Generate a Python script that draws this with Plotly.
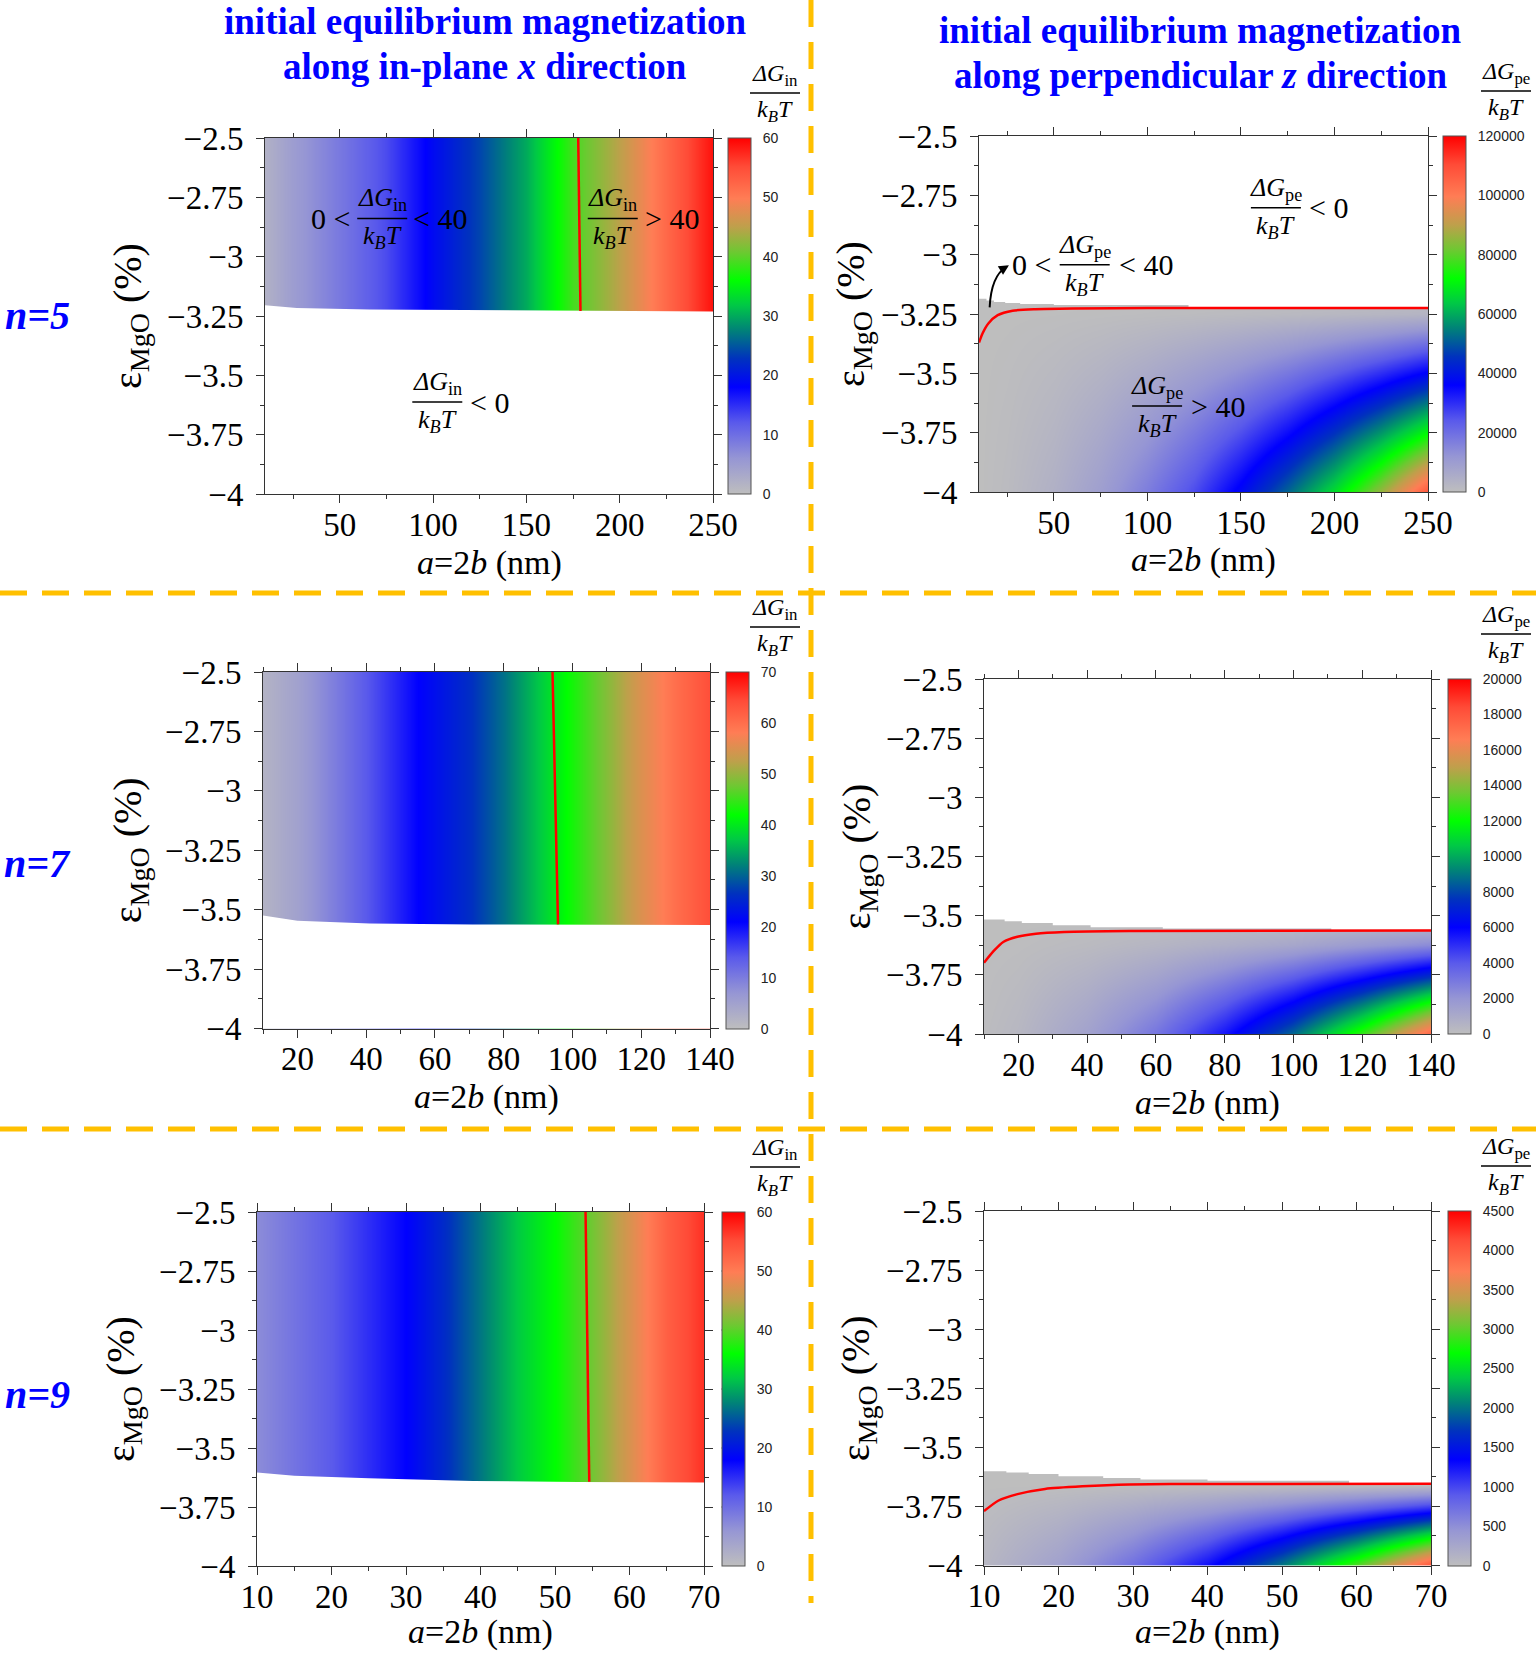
import plotly.graph_objects as go

W, H = 1536, 1654

# ---------------- data ----------------
# in-plane (x) panels: ΔG_in/kBT versus a = 2b (nm), nearly independent of strain
a_in5 = [10, 25, 50, 75, 100, 125, 150, 175, 200, 225, 250]
g_in5 = [2, 5, 9, 13, 19, 24, 30, 39, 45, 52, 59]
edge_a_in5 = [10, 27, 66, 122, 250]
edge_e_in5 = [-3.205, -3.216, -3.223, -3.226, -3.231]
c40_a_in5 = [177.8, 179.0]
c40_e_in5 = [-2.5, -3.229]

a_in7 = [10, 20, 40, 55, 70, 80, 90, 95, 100, 110, 120, 130, 140]
g_in7 = [2, 5, 14, 21, 26, 31, 37, 40, 43, 49, 55, 60, 64]
edge_a_in7 = [10, 20, 41, 71, 140]
edge_e_in7 = [-3.525, -3.547, -3.558, -3.5625, -3.565]
c40_a_in7 = [94.2, 95.8]
c40_e_in7 = [-2.5, -3.562]

a_in9 = [10, 20, 30, 35, 40, 45, 50, 55, 60, 65, 70]
g_in9 = [7, 12, 18, 22, 27, 32, 36, 41, 47, 53, 57]
edge_a_in9 = [10, 15, 25, 39, 53, 70]
edge_e_in9 = [-3.604, -3.618, -3.628, -3.640, -3.644, -3.647]
c40_a_in9 = [54.1, 54.6]
c40_e_in9 = [-2.5, -3.643]

# perpendicular (z) panels: ΔG_pe/kBT on an (a, strain) grid
a_pe5 = [10, 25, 50, 75, 100, 125, 150, 175, 200, 225, 250]
e_pe5 = [-4.0, -3.75, -3.5, -3.25, -3.18]
g_pe5 = [
    [0, 1000, 4200, 9500, 17000, 26000, 38000, 52000, 67000, 86000, 108000],
    [0, 700, 2800, 6400, 11400, 17800, 25600, 34800, 45500, 58000, 72000],
    [0, 370, 1500, 3300, 5900, 9300, 13400, 18200, 23800, 30000, 37000],
    [0, 30, 120, 280, 500, 780, 1100, 1500, 2000, 2500, 3100],
    [0, 0, 0, 0, 0, 0, 0, 0, 0, 0, 0],
]
edge_a_pe5 = [10, 14, 18, 24, 32, 50, 122, 250]
edge_e_pe5 = [-3.186, -3.193, -3.199, -3.204, -3.208, -3.212, -3.222, -3.222]
c40_a_pe5 = [10, 12, 15, 20, 28, 40, 60, 100, 250]
c40_e_pe5 = [-3.37, -3.33, -3.29, -3.255, -3.236, -3.23, -3.227, -3.225, -3.225]

a_pe7 = [10, 20, 40, 60, 80, 100, 120, 140]
e_pe7 = [-4.0, -3.875, -3.75, -3.625, -3.52]
g_pe7 = [
    [100, 350, 1400, 3100, 5600, 8700, 12800, 17500],
    [60, 250, 1000, 2200, 4000, 6200, 9100, 12500],
    [40, 150, 600, 1300, 2400, 3700, 5400, 7300],
    [10, 50, 200, 450, 800, 1200, 1800, 2400],
    [0, 0, 0, 0, 0, 0, 0, 0],
]
edge_a_pe7 = [10, 16, 21, 30, 41, 62, 111, 140]
edge_e_pe7 = [-3.516, -3.524, -3.531, -3.541, -3.549, -3.554, -3.560, -3.560]
c40_a_pe7 = [10, 12.9, 15.6, 19.7, 25.1, 33.3, 52.3, 140]
c40_e_pe7 = [-3.699, -3.648, -3.611, -3.589, -3.576, -3.569, -3.565, -3.563]

a_pe9 = [10, 20, 30, 40, 50, 60, 70]
e_pe9 = [-4.0, -3.875, -3.75, -3.66, -3.6]
g_pe9 = [
    [80, 330, 740, 1300, 2050, 3000, 4100],
    [50, 210, 470, 830, 1300, 1900, 2600],
    [20, 90, 200, 350, 540, 780, 1060],
    [0, 0, 0, 0, 0, 0, 0],
    [0, 0, 0, 0, 0, 0, 0],
]
edge_a_pe9 = [10, 13, 16, 20, 26, 31, 40, 59, 70]
edge_e_pe9 = [-3.601, -3.606, -3.613, -3.622, -3.630, -3.636, -3.641, -3.652, -3.652]
c40_a_pe9 = [10, 11.9, 14.5, 18.2, 23.2, 29.5, 40, 70]
c40_e_pe9 = [-3.770, -3.726, -3.698, -3.676, -3.665, -3.657, -3.655, -3.654]

strain_ticks = [-4, -3.75, -3.5, -3.25, -3, -2.75, -2.5]
strain_text = ["−4", "−3.75", "−3.5", "−3.25", "−3", "−2.75", "−2.5"]
cb_in5 = [0, 10, 20, 30, 40, 50, 60]
cb_pe5 = [0, 20000, 40000, 60000, 80000, 100000, 120000]
cb_in7 = [0, 10, 20, 30, 40, 50, 60, 70]
cb_pe7 = [0, 2000, 4000, 6000, 8000, 10000, 12000, 14000, 16000, 18000, 20000]
cb_in9 = [0, 10, 20, 30, 40, 50, 60]
cb_pe9 = [0, 500, 1000, 1500, 2000, 2500, 3000, 3500, 4000, 4500]

# ---------------- styling ----------------
SERIF = "Liberation Serif"
SANS = "Liberation Sans"
ORANGE = "#FFC000"

colorscale = [
    [0.00, "rgb(190,190,190)"],
    [0.10, "rgb(150,150,212)"],
    [0.20, "rgb(90,90,235)"],
    [0.30, "rgb(0,0,255)"],
    [0.38, "rgb(0,50,190)"],
    [0.46, "rgb(0,130,120)"],
    [0.53, "rgb(0,200,70)"],
    [0.60, "rgb(0,255,0)"],
    [0.68, "rgb(110,200,50)"],
    [0.75, "rgb(190,160,75)"],
    [0.83, "rgb(255,125,85)"],
    [0.92, "rgb(255,75,55)"],
    [1.00, "rgb(255,0,0)"],
]


def fx(p):
    return p / W


def fy(p):
    return 1 - p / H


# panel geometry in pixels: plot left, right, top, bottom, colorbar left, x-title centre
panels = [
    dict(kind="in", a=a_in5, g=g_in5, ea=edge_a_in5, ee=edge_e_in5, ca=c40_a_in5, ce=c40_e_in5,
         xr=[10, 250], xd=50, xm=25, cb=cb_in5, box=(265, 713, 138, 494), cbl=728, sub="in", xt=563),
    dict(kind="pe", a=a_pe5, e=e_pe5, g=g_pe5, ea=edge_a_pe5, ee=edge_e_pe5, ca=c40_a_pe5, ce=c40_e_pe5,
         xr=[10, 250], xd=50, xm=25, cb=cb_pe5, box=(979, 1428, 136, 492), cbl=1443, sub="pe", xt=560),
    dict(kind="in", a=a_in7, g=g_in7, ea=edge_a_in7, ee=edge_e_in7, ca=c40_a_in7, ce=c40_e_in7,
         xr=[10, 140], xd=20, xm=10, cb=cb_in7, box=(263, 710, 672, 1028.5), cbl=726, sub="in", xt=1097),
    dict(kind="pe", a=a_pe7, e=e_pe7, g=g_pe7, ea=edge_a_pe7, ee=edge_e_pe7, ca=c40_a_pe7, ce=c40_e_pe7,
         xr=[10, 140], xd=20, xm=10, cb=cb_pe7, box=(984, 1431, 679, 1034), cbl=1448, sub="pe", xt=1103),
    dict(kind="in", a=a_in9, g=g_in9, ea=edge_a_in9, ee=edge_e_in9, ca=c40_a_in9, ce=c40_e_in9,
         xr=[10, 70], xd=10, xm=5, cb=cb_in9, box=(257, 704, 1212, 1566), cbl=721.5, sub="in", xt=1632),
    dict(kind="pe", a=a_pe9, e=e_pe9, g=g_pe9, ea=edge_a_pe9, ee=edge_e_pe9, ca=c40_a_pe9, ce=c40_e_pe9,
         xr=[10, 70], xd=10, xm=5, cb=cb_pe9, box=(984, 1431, 1211, 1565.5), cbl=1448, sub="pe", xt=1632),
]

fig = go.Figure()
layout = dict(width=W, height=H, margin=dict(l=0, r=0, t=0, b=0, autoexpand=False),
              paper_bgcolor="white", plot_bgcolor="white", showlegend=False)
shapes = []
annotations = []
YLO, YHI = -4.0, -2.5
CBW = 23

for i, p in enumerate(panels, start=1):
    xa = "x" if i == 1 else f"x{i}"
    ya = "y" if i == 1 else f"y{i}"
    L, R, T, B = p["box"]
    xdom = [fx(L), fx(R)]
    ydom = [fy(B), fy(T)]
    vmax = p["cb"][-1]
    x0, x1 = p["xr"]

    cbar = dict(x=fx(p["cbl"]), xanchor="left", xpad=0, ypad=0,
                y=(ydom[0] + ydom[1]) / 2, yanchor="middle", len=ydom[1] - ydom[0], lenmode="fraction",
                thickness=CBW, thicknessmode="pixels", outlinewidth=1, outlinecolor="#555",
                tickvals=p["cb"], ticktext=[str(v) for v in p["cb"]],
                ticks="outside", ticklen=9, tickcolor="rgba(0,0,0,0)",
                tickfont=dict(family=SANS, size=14, color="#222"))

    if p["kind"] == "in":
        fig.add_trace(go.Heatmap(x=p["a"], y=[YLO, YHI], z=[p["g"], p["g"]], zsmooth="best",
                                 colorscale=colorscale, zmin=0, zmax=vmax, colorbar=cbar,
                                 xaxis=xa, yaxis=ya, hoverinfo="skip"))
        # region where ΔG_in < 0 (left blank)
        fig.add_trace(go.Scatter(x=p["ea"] + [x1 + 5, x1 + 5, x0 - 5, x0 - 5],
                                 y=p["ee"] + [p["ee"][-1], YLO - 0.1, YLO - 0.1, p["ee"][0]],
                                 fill="toself", fillcolor="white", mode="lines", line=dict(width=0),
                                 xaxis=xa, yaxis=ya, hoverinfo="skip"))
        fig.add_trace(go.Scatter(x=p["ca"], y=p["ce"], mode="lines",
                                 line=dict(color="red", width=2.5), xaxis=xa, yaxis=ya, hoverinfo="skip"))
    else:
        fig.add_trace(go.Heatmap(x=p["a"], y=p["e"], z=p["g"], zsmooth="best",
                                 colorscale=colorscale, zmin=0, zmax=vmax, colorbar=cbar,
                                 xaxis=xa, yaxis=ya, hoverinfo="skip"))
        fig.add_trace(go.Scatter(x=p["ea"] + [x1 + 5, x1 + 5, x0 - 5, x0 - 5],
                                 y=p["ee"] + [p["ee"][-1], YHI + 0.1, YHI + 0.1, p["ee"][0]],
                                 fill="toself", fillcolor="white", mode="lines",
                                 line=dict(width=0, shape="hv"),
                                 xaxis=xa, yaxis=ya, hoverinfo="skip"))
        fig.add_trace(go.Scatter(x=p["ca"], y=p["ce"], mode="lines",
                                 line=dict(color="red", width=2.5, shape="spline", smoothing=0.6),
                                 xaxis=xa, yaxis=ya, hoverinfo="skip"))

    common = dict(showline=True, linecolor="#333", linewidth=1, mirror="allticks",
                  ticks="outside", ticklen=8, tickwidth=1, tickcolor="#333",
                  showgrid=False, zeroline=False, automargin=False,
                  tickfont=dict(family=SERIF, size=33, color="black"))
    layout["xaxis" if i == 1 else f"xaxis{i}"] = dict(
        common, domain=xdom, range=[x0, x1], anchor=ya, tickmode="linear", tick0=0, dtick=p["xd"],
        ticklabelstandoff=-7,
        minor=dict(ticks="outside", ticklen=4, tickwidth=1, tickcolor="#333", tick0=0, dtick=p["xm"]))
    layout["yaxis" if i == 1 else f"yaxis{i}"] = dict(
        common, domain=ydom, range=[YLO, YHI], anchor=xa, tickmode="array",
        tickvals=strain_ticks, ticktext=strain_text, ticklabelstandoff=6,
        minor=dict(ticks="outside", ticklen=4, tickwidth=1, tickcolor="#333", tick0=-4, dtick=0.125))

    # dashed marks across the colour bar
    for t in p["cb"][1:-1]:
        yv = YLO + (t / vmax) * (YHI - YLO)
        shapes.append(dict(type="line", xref="paper", yref=ya, x0=fx(p["cbl"]), x1=fx(p["cbl"] + CBW),
                           y0=yv, y1=yv, line=dict(color="#333", width=1, dash="4px,4px")))

    # axis titles
    annotations.append(dict(xref="paper", yref="paper", x=fx((L + R) / 2), y=fy(p["xt"]),
                            text="<i>a</i>=2<i>b</i> (nm)", showarrow=False,
                            font=dict(family=SERIF, size=34, color="black"),
                            xanchor="center", yanchor="middle"))
    ytx = {1: 130, 2: 853, 3: 130, 4: 858, 5: 123, 6: 858}[i]
    annotations.append(dict(xref="paper", yref="paper", x=fx(ytx), y=fy((T + B) / 2),
                            text="ε<sub>MgO</sub> (%)", showarrow=False, textangle=-90,
                            font=dict(family=SERIF, size=40, color="black"),
                            xanchor="center", yanchor="middle"))

    # colour-bar title (fraction)
    cx = 775 if p["sub"] == "in" else 1506
    by = T - 45
    annotations.append(dict(xref="paper", yref="paper", x=fx(cx), y=fy(by), yshift=1,
                            text=f"<i>ΔG</i><sub>{p['sub']}</sub>", showarrow=False,
                            font=dict(family=SERIF, size=24, color="black"),
                            xanchor="center", yanchor="bottom"))
    annotations.append(dict(xref="paper", yref="paper", x=fx(cx), y=fy(by), yshift=-1,
                            text="<i>k<sub>B</sub>T</i>", showarrow=False,
                            font=dict(family=SERIF, size=24, color="black"),
                            xanchor="center", yanchor="top"))
    shapes.append(dict(type="line", xref="paper", yref="paper", x0=fx(cx - 25), x1=fx(cx + 25),
                       y0=fy(by), y1=fy(by), line=dict(color="black", width=1.5)))


def frac(xref, yref, x, y, sub, size=26):
    annotations.append(dict(xref=xref, yref=yref, x=x, y=y, yshift=1,
                            text=f"<i>ΔG</i><sub>{sub}</sub>", showarrow=False,
                            font=dict(family=SERIF, size=size, color="black"),
                            xanchor="center", yanchor="bottom"))
    annotations.append(dict(xref=xref, yref=yref, x=x, y=y, yshift=-1,
                            text="<i>k<sub>B</sub>T</i>", showarrow=False,
                            font=dict(family=SERIF, size=size, color="black"),
                            xanchor="center", yanchor="top"))
    shapes.append(dict(type="line", xref=xref, yref=yref, xsizemode="pixel", xanchor=x,
                       x0=-25, x1=25, ysizemode="pixel", yanchor=y, y0=0, y1=0,
                       line=dict(color="black", width=1.5)))


def plain(xref, yref, x, y, text, size=30):
    annotations.append(dict(xref=xref, yref=yref, x=x, y=y, text=text, showarrow=False,
                            font=dict(family=SERIF, size=size, color="black"),
                            xanchor="center", yanchor="middle"))


# labels inside the n=5 panels
plain("x", "y", 45, -2.839, "0 &lt;")
frac("x", "y", 72.8, -2.839, "in")
plain("x", "y", 104, -2.839, "&lt; 40")
frac("x", "y", 196.3, -2.839, "in")
plain("x", "y", 228, -2.839, "&gt; 40")
frac("x", "y", 102.3, -3.6125, "in")
plain("x", "y", 130, -3.6125, "&lt; 0")

frac("x2", "y2", 168.7, -2.8026, "pe")
plain("x2", "y2", 197, -2.8026, "&lt; 0")
plain("x2", "y2", 38, -3.0428, "0 &lt;")
frac("x2", "y2", 66.5, -3.0428, "pe")
plain("x2", "y2", 99, -3.0428, "&lt; 40")
frac("x2", "y2", 105.2, -3.638, "pe")
plain("x2", "y2", 138, -3.638, "&gt; 40")
shapes.append(dict(type="path", xref="x2", yref="y2", path="M 15.7,-3.222 Q 16.5,-3.09 24.5,-3.052",
                   line=dict(color="black", width=2)))
annotations.append(dict(xref="x2", yref="y2", axref="x2", ayref="y2", x=26.0, y=-3.045,
                        ax=22.5, ay=-3.062, text="", showarrow=True, arrowhead=2, arrowsize=1,
                        arrowwidth=2, arrowcolor="black"))

# column titles
for cx, y1, y2, t1, t2 in [
    (485, 21, 67, "initial equilibrium magnetization", "along in-plane <i>x</i> direction"),
    (1200, 30, 76, "initial equilibrium magnetization", "along perpendicular <i>z</i> direction"),
]:
    for yy, tt in [(y1, t1), (y2, t2)]:
        annotations.append(dict(xref="paper", yref="paper", x=fx(cx), y=fy(yy), text=f"<b>{tt}</b>",
                                showarrow=False, font=dict(family=SERIF, size=37, color="#0000FF"),
                                xanchor="center", yanchor="middle"))

# row labels
for yy, t in [(316, "n=5"), (863, "n=7"), (1394, "n=9")]:
    annotations.append(dict(xref="paper", yref="paper", x=fx(37), y=fy(yy), text=f"<b><i>{t}</i></b>",
                            showarrow=False, font=dict(family=SERIF, size=40, color="#0000FF"),
                            xanchor="center", yanchor="middle"))

# dashed orange separators
for yy in [593, 1129]:
    shapes.append(dict(type="line", xref="paper", yref="paper", x0=0, x1=1, y0=fy(yy), y1=fy(yy),
                       line=dict(color=ORANGE, width=5, dash="27px,15px")))
shapes.append(dict(type="line", xref="paper", yref="paper", x0=fx(811), x1=fx(811), y0=fy(0), y1=fy(1603),
                   line=dict(color=ORANGE, width=5, dash="27px,15px")))

layout["shapes"] = shapes
layout["annotations"] = annotations
fig.update_layout(**layout)
fig.write_html("out.html")
